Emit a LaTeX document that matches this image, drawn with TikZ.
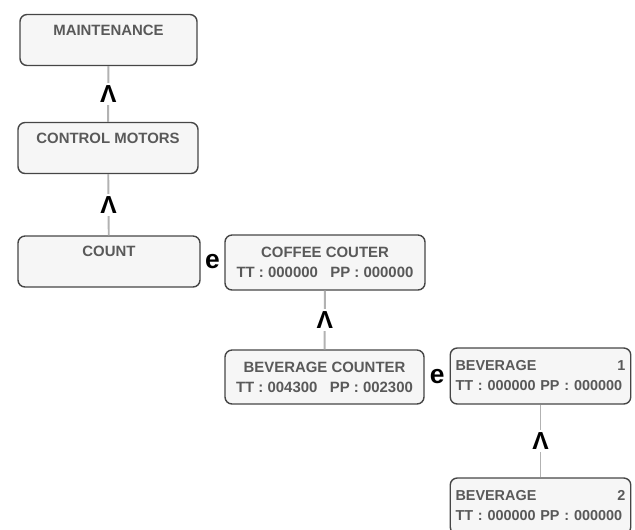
\documentclass[tikz,border=0pt]{standalone}
\usepackage{fontspec}
\setmainfont{Liberation Sans}
\usepackage{tikz}

\begin{document}
\begin{tikzpicture}[x=1cm,y=1cm,
  lcd/.style={draw=gray!55!black,line width=0.8pt,rounded corners=4pt,fill=gray!7,
    text=gray!70!black,font=\fontsize{8.5}{11.4}\selectfont\bfseries,inner sep=2pt},
  menu/.style={lcd,align=center,minimum width=#1,minimum height=1.02cm},
  screen/.style={lcd,text width=3.4cm,align=left,minimum height=1.12cm,inner xsep=3pt,
    font=\fontsize{8.2}{11.4}\selectfont\bfseries},
  wire/.style={draw=gray!60,line width=1.1pt},
  caret/.style={fill=white,inner sep=1.5pt,text=black,font=\fontsize{14}{14}\selectfont\bfseries},
  link/.style={inner sep=0pt,text=black,font=\fontsize{15}{15}\selectfont\bfseries}]
\useasboundingbox (0,0) rectangle (12.7,-10.58);
\clip (0,0) rectangle (12.7,-10.58);
% left column
\node[menu=3.54cm] (maint) at (2.17,-0.80) {MAINTENANCE\\ ~};
\node[menu=3.60cm] (motors) at (2.16,-2.96) {CONTROL MOTORS\\ ~};
\node[menu=3.64cm] (count) at (2.18,-5.23) {COUNT\\ ~};
% counters
\node[menu=4.0cm,minimum height=1.1cm] (coffee) at (6.50,-5.25) {COFFEE COUTER\\TT : 000000 \ \ PP : 000000};
\node[menu=3.98cm,minimum height=1.08cm] (bevcnt) at (6.49,-7.54) {BEVERAGE COUNTER\\TT : 004300 \ \ PP : 002300};
% beverages
\node[screen] (bevone) at (10.81,-7.52) {BEVERAGE\hfill 1\\TT : 000000 PP : 000000};
\node[screen] (bevtwo) at (10.81,-10.12) {BEVERAGE\hfill 2\\TT : 000000 PP : 000000};
% connectors
\draw[wire] (motors) -- node[caret] {Λ} (maint);
\draw[wire] (count) -- node[caret] {Λ} (motors);
\draw[wire] (bevcnt) -- node[caret] {Λ} (coffee);
\draw[wire] (bevtwo) -- node[caret] {Λ} (bevone);
\path (count.east) -- node[link] {e} (coffee.west);
\path (bevcnt.east) -- node[link] {e} (bevone.west);
\end{tikzpicture}
\end{document}
